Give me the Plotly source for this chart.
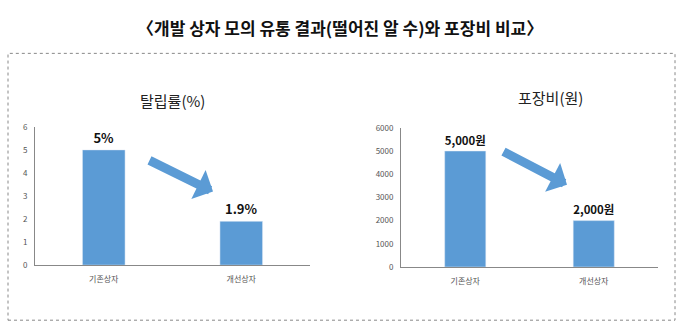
import plotly.graph_objects as go

categories = ["기존상자", "개선상자"]
drop_rate = [5, 1.9]
drop_labels = ["<b>5%</b>", "<b>1.9%</b>"]
pack_cost = [5000, 2000]
pack_labels = ["<b>5,000원</b>", "<b>2,000원</b>"]
main_title = "<b>〈개발 상자 모의 유통 결과(떨어진 알 수)와 포장비 비교〉</b>"
left_title = "탈립률(%)"
right_title = "포장비(원)"

W, H = 680, 331
BLUE = "#5B9BD5"
FONT = "Noto Sans CJK KR"

def px(x):
    return x / W

def py(y):
    return 1 - y / H

fig = go.Figure()
fig.add_trace(go.Bar(x=categories, y=drop_rate, text=drop_labels, textposition="outside",
                     marker_color=BLUE, width=0.31, xaxis="x", yaxis="y",
                     textfont=dict(family=FONT, size=13, color="#111"), cliponaxis=False))
fig.add_trace(go.Bar(x=categories, y=pack_cost, text=pack_labels, textposition="outside",
                     marker_color=BLUE, width=0.32, xaxis="x2", yaxis="y2",
                     textfont=dict(family=FONT, size=13, color="#111"), cliponaxis=False))

axis_common = dict(showgrid=False, zeroline=False, showline=True, linecolor="#888", linewidth=1,
                   tickfont=dict(family=FONT, size=8, color="#555"), ticks="")
fig.update_layout(
    width=W, height=H, margin=dict(l=0, r=0, t=0, b=0),
    paper_bgcolor="white", plot_bgcolor="white", showlegend=False,
    font=dict(family=FONT),
    xaxis=dict(domain=[px(35), px(310)], anchor="y", ticklabelstandoff=6, **axis_common),
    yaxis=dict(domain=[py(268), py(125)], anchor="x", range=[0, 6], dtick=1, ticklabelstandoff=5, **axis_common),
    xaxis2=dict(domain=[px(401), px(658)], anchor="y2", ticklabelstandoff=6, **axis_common),
    yaxis2=dict(domain=[py(270), py(126)], anchor="x2", range=[0, 6000], dtick=1000, ticklabelstandoff=5, **axis_common),
)

# outer dotted frame
fig.add_shape(type="rect", xref="paper", yref="paper", x0=px(8), x1=px(675), y0=py(325), y1=py(49),
              line=dict(color="#888", width=1, dash="dot"))

fig.add_annotation(x=0.5, y=py(22), xref="paper", yref="paper", text=main_title, showarrow=False,
                   font=dict(family=FONT, size=17, color="#111"), xanchor="center", yanchor="middle")
fig.add_annotation(x=px(172), y=py(98), xref="paper", yref="paper", text=left_title, showarrow=False,
                   font=dict(family=FONT, size=15, color="#222"), xanchor="center", yanchor="middle")
fig.add_annotation(x=px(550), y=py(95), xref="paper", yref="paper", text=right_title, showarrow=False,
                   font=dict(family=FONT, size=15, color="#222"), xanchor="center", yanchor="middle")

# arrows
for (x0, y0, x1, y1) in [(148, 160, 213, 192), (502, 151, 567, 185)]:
    fig.add_annotation(x=px(x1), y=py(y1), ax=x0 - x1, ay=y0 - y1, xref="paper", yref="paper",
                       axref="pixel", ayref="pixel", text="", showarrow=True,
                       arrowhead=1, arrowsize=0.6, arrowwidth=9, arrowcolor=BLUE)

fig.write_html("out.html")
